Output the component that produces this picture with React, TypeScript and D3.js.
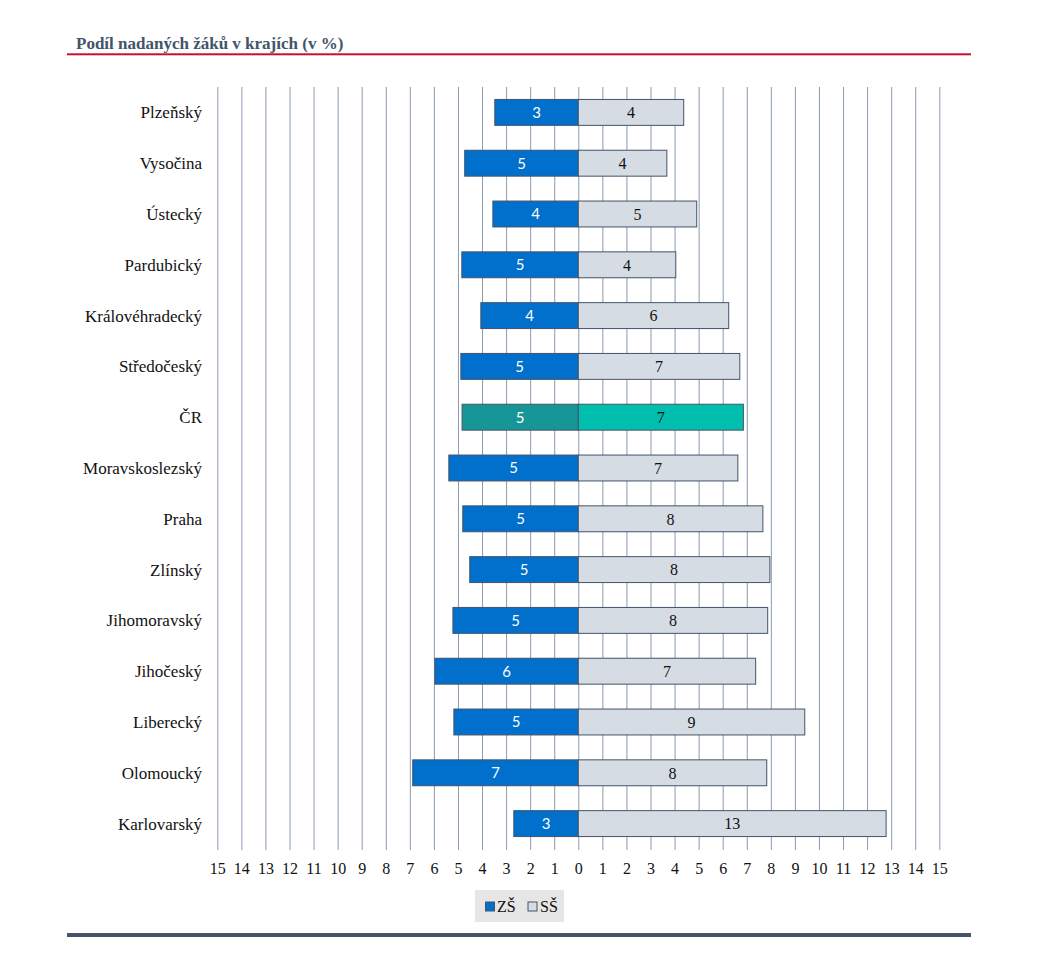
import React from "react";
import * as d3 from "d3";

// Regions, top to bottom
const regions = [
  "Plzeňský",
  "Vysočina",
  "Ústecký",
  "Pardubický",
  "Královéhradecký",
  "Středočeský",
  "ČR",
  "Moravskoslezský",
  "Praha",
  "Zlínský",
  "Jihomoravský",
  "Jihočeský",
  "Liberecký",
  "Olomoucký",
  "Karlovarský",
];

// Share of gifted pupils (%), primary schools (ZŠ)
const zsValues = [3.47, 4.72, 3.55, 4.84, 4.05, 4.88, 4.83, 5.38, 4.8, 4.51, 5.21, 5.96, 5.17, 6.88, 2.68];
// Share of gifted pupils (%), secondary schools (SŠ)
const ssValues = [4.38, 3.68, 4.92, 4.05, 6.25, 6.71, 6.86, 6.63, 7.67, 7.96, 7.87, 7.37, 9.41, 7.83, 12.79];

const axisTicks = d3.range(-15, 16, 1);
const seriesNames = ["ZŠ", "SŠ"];

const COLORS = {
  zs: "#0070CC",
  ss: "#D6DCE4",
  zsTotal: "#169696",
  ssTotal: "#00BFAE",
  stroke: "#44546A",
  grid: "#8A9AB2",
  title: "#44546A",
  rule: "#C8102E",
};

export default function App() {
  const W = 1050;
  const H = 971;
  const x = d3.scaleLinear().domain([-15, 15]).range([217.3, 939.3]);
  const y = d3
    .scaleBand<string>()
    .domain(regions)
    .range([87, 849])
    .paddingInner(0.49)
    .paddingOuter(0.245);
  const fmt = d3.format(".0f");
  const serif = "'Liberation Serif', 'Times New Roman', serif";
  const sans = "Lato, 'Liberation Sans', sans-serif";

  return (
    <svg
      width={W}
      height={H}
      style={{ position: "absolute", left: 0, top: 0, background: "#fff" }}
    >
      {/* Title */}
      <text x={76} y={49} fontFamily={serif} fontWeight="bold" fontSize={17} fill={COLORS.title}>
        Podíl nadaných žáků v krajích (v %)
      </text>
      <rect x={67} y={53.3} width={904} height={2} fill={COLORS.rule} />

      {/* Vertical gridlines */}
      {axisTicks.map((t) => (
        <line
          key={"g" + t}
          x1={x(t) + 0.5}
          x2={x(t) + 0.5}
          y1={87}
          y2={850}
          stroke={COLORS.grid}
          strokeWidth={1}
        />
      ))}

      {/* Bars */}
      {regions.map((r, i) => {
        const isTotal = r === "ČR";
        const y0 = y(r)!;
        const bh = y.bandwidth();
        const cy = y0 + bh / 2;
        const zl = x(-zsValues[i]);
        const zr = x(0);
        const sr = x(ssValues[i]);
        return (
          <g key={r}>
            <rect
              x={zl}
              y={y0}
              width={zr - zl}
              height={bh}
              fill={isTotal ? COLORS.zsTotal : COLORS.zs}
              stroke={COLORS.stroke}
              strokeWidth={1}
            />
            <rect
              x={zr}
              y={y0}
              width={sr - zr}
              height={bh}
              fill={isTotal ? COLORS.ssTotal : COLORS.ss}
              stroke={COLORS.stroke}
              strokeWidth={1}
            />
            <text
              x={(zl + zr) / 2}
              y={cy}
              dy="0.36em"
              textAnchor="middle"
              fontFamily={sans}
              fontSize={15}
              fill="#fff"
            >
              {fmt(zsValues[i])}
            </text>
            <text
              x={(zr + sr) / 2}
              y={cy}
              dy="0.36em"
              textAnchor="middle"
              fontFamily={serif}
              fontSize={16}
              fill="#111"
            >
              {fmt(ssValues[i])}
            </text>
            <text
              x={202}
              y={cy}
              dy="0.35em"
              textAnchor="end"
              fontFamily={serif}
              fontSize={17}
              fill="#111"
            >
              {r}
            </text>
          </g>
        );
      })}

      {/* Axis labels */}
      {axisTicks.map((t) => (
        <text
          key={"t" + t}
          x={x(t) + 0.5}
          y={874}
          textAnchor="middle"
          fontFamily={serif}
          fontSize={16}
          fill="#111"
        >
          {Math.abs(t)}
        </text>
      ))}

      {/* Legend */}
      <rect x={475} y={890} width={89} height={32} fill="#E6E6E6" />
      <rect x={485.5} y={902} width={9} height={9} fill={COLORS.zs} stroke={COLORS.stroke} strokeWidth={1} />
      <text x={497} y={912} fontFamily={serif} fontSize={16} fill="#111">
        {seriesNames[0]}
      </text>
      <rect x={528} y={902} width={9} height={9} fill={COLORS.ss} stroke={COLORS.stroke} strokeWidth={1} />
      <text x={540} y={912} fontFamily={serif} fontSize={16} fill="#111">
        {seriesNames[1]}
      </text>

      {/* Bottom rule */}
      <rect x={67} y={933} width={904} height={4} fill="#44546A" />
    </svg>
  );
}
